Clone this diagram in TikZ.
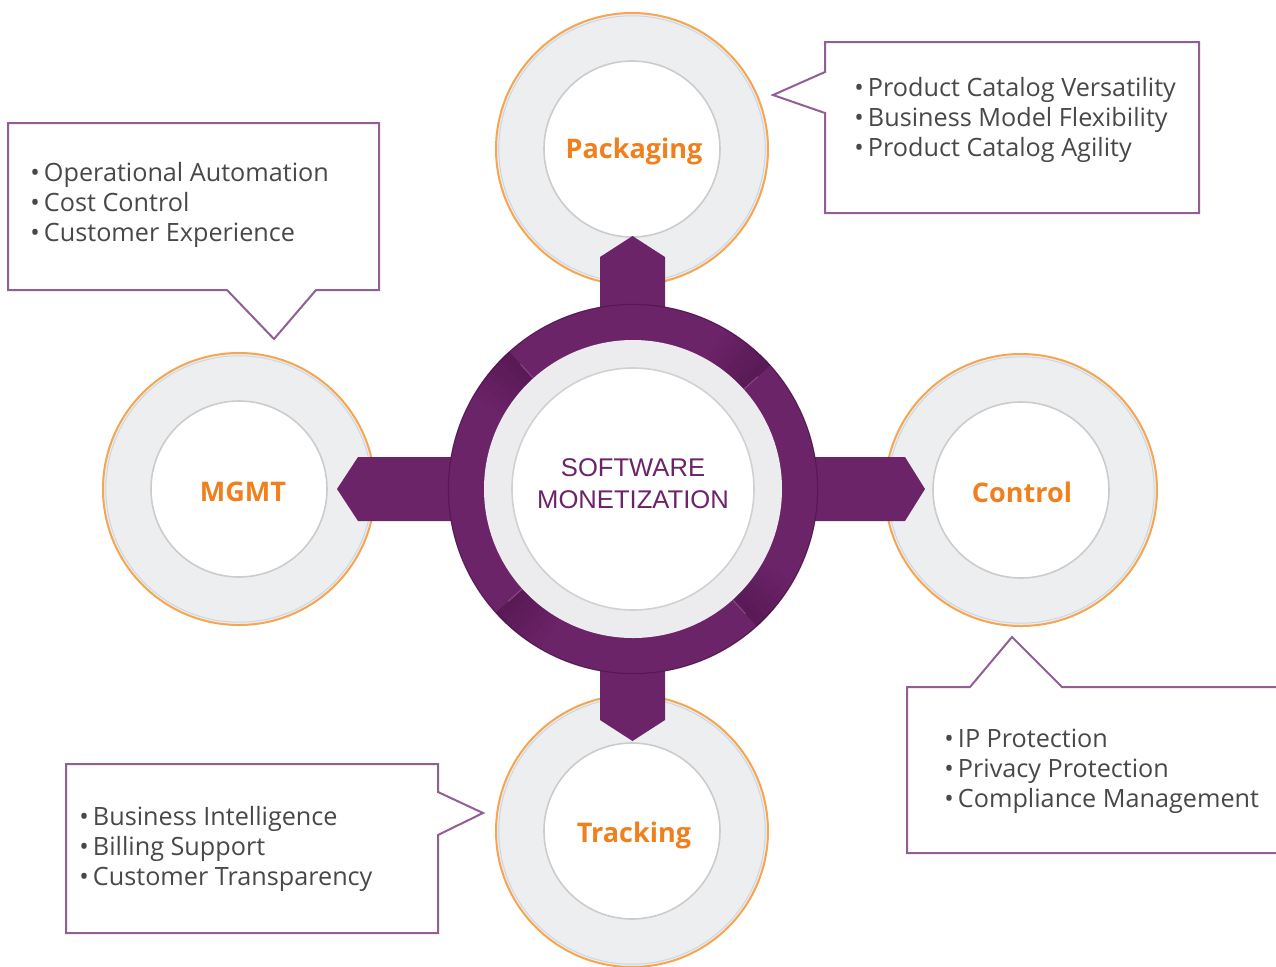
\documentclass[tikz,border=0pt]{standalone}
\usepackage{fontspec}
\setmainfont{Open Sans}
\newfontfamily\cfont{Liberation Sans}
\usetikzlibrary{calc}
\definecolor{purp}{RGB}{108,36,104}
\definecolor{purpdark}{RGB}{60,12,58}
\definecolor{orng}{RGB}{240,128,30}
\definecolor{orline}{RGB}{246,165,80}
\definecolor{ringgrey}{RGB}{237,238,240}
\definecolor{bluegrey}{RGB}{205,214,224}
\definecolor{coregrey}{RGB}{236,236,238}
\definecolor{boxline}{RGB}{145,95,150}
\definecolor{txt}{RGB}{72,72,72}
\begin{document}
\begin{tikzpicture}[x=0.5pt,y=-0.5pt,
  satouter/.style={circle,draw=orline,line width=1pt,fill=ringgrey,minimum size=136pt,inner sep=0pt},
  satinner/.style={circle,draw=black!20,line width=0.8pt,fill=white,minimum size=88pt,inner sep=0pt},
  satlabel/.style={anchor=base,font=\bfseries\fontsize{13.5}{16}\selectfont,text=orng,inner sep=0pt},
  callout/.style={draw=boxline,line width=1pt,fill=white,line join=miter},
  bullets/.style={align=left,anchor=west,text=txt,inner sep=0pt,font=\fontsize{12.6}{15}\selectfont},
  arm/.style={fill=purp}
]
\useasboundingbox (0,0) rectangle (1276,966);
\fill[white] (0,0) rectangle (1276,966);
\clip (0,0) rectangle (1276,966);

% satellite circles
\node[satouter] (pack) at (632,149) {};
\node[satouter] (mgmt) at (239,489) {};
\node[satouter] (ctrl) at (1021,490) {};
\node[satouter] (track) at (632,831) {};
\foreach \n in {pack,mgmt,ctrl,track}{
  \draw[bluegrey,line width=0.5pt] (\n.center) circle[radius=66.6pt];
}
\node[satinner] (packin) at (pack.center) {};
\node[satinner] (mgmtin) at (mgmt.center) {};
\node[satinner] (ctrlin) at (ctrl.center) {};
\node[satinner] (trackin) at (track.center) {};

% arms
\fill[arm] (600,257) -- (632.5,236) -- (665,257) -- (665,420) -- (600,420) -- cycle;
\fill[arm] (600,720) -- (632.5,741) -- (665,720) -- (665,560) -- (600,560) -- cycle;
\fill[arm] (358,457) -- (337,489) -- (358,521) -- (500,521) -- (500,457) -- cycle;
\fill[arm] (905,457) -- (925,489) -- (905,521) -- (760,521) -- (760,457) -- cycle;

% central ring
\node[circle,fill=purp,minimum size=185pt,inner sep=0pt] (core) at (633,489) {};
\draw[purpdark,opacity=0.45,line width=0.6pt] (core.center) circle[radius=92.3pt];
\foreach \a in {132,42,-48,222}{
  \foreach \i in {0,...,8}{
    \pgfmathsetmacro\op{0.38*(1-\i/9)}
    \pgfmathsetmacro\sa{\a+2*\i}
    \pgfmathsetmacro\ea{\a+2*\i+2}
    \fill[purpdark,opacity=\op,shift={(core.center)}]
      (\sa:92.5pt) arc[start angle=\sa, end angle=\ea, radius=92.5pt]
      -- (\ea:74.5pt) arc[start angle=\ea, end angle=\sa, radius=74.5pt] -- cycle;
  }
  \draw[purp!85!white,line width=0.6pt,shift={(core.center)}] (\a:74.5pt) -- (\a:84pt);
}
\node[circle,fill=coregrey,minimum size=149pt,inner sep=0pt] (coregr) at (core.center) {};
\node[circle,fill=white,draw=black!18,line width=0.8pt,minimum size=121pt,inner sep=0pt] (corein) at (core.center) {};
\node[align=center,text=purp,font=\cfont\fontsize{12.8}{16}\selectfont] (coretext) at (633,484) {SOFTWARE\\MONETIZATION};

% satellite labels
\node[satlabel] (packlbl) at (634,158) {Packaging};
\node[satlabel] (mgmtlbl) at (243,501) {MGMT};
\node[satlabel] (ctrllbl) at (1022,502) {Control};
\node[satlabel] (tracklbl) at (634,842) {Tracking};

% callouts
\draw[callout] (825,42) -- (1199,42) -- (1199,213) -- (825,213) -- (825,113) -- (773,95) -- (825,72) -- cycle;
\draw[callout] (8,123) -- (379,123) -- (379,290) -- (316,290) -- (274,339) -- (227,290) -- (8,290) -- cycle;
\draw[callout] (907,687) -- (970,687) -- (1012,637) -- (1062,687) -- (1290,687) -- (1290,853) -- (907,853) -- cycle;
\draw[callout] (66,764) -- (438,764) -- (438,792) -- (483,813) -- (438,835) -- (438,933) -- (66,933) -- cycle;

\newcommand{\bul}{\makebox[6.8pt][l]{\textbullet}}
\node[bullets] (packtxt) at (854,120) {\bul Product Catalog Versatility\\\bul Business Model Flexibility\\\bul Product Catalog Agility};
\node[bullets] (mgmttxt) at (30,205) {\bul Operational Automation\\\bul Cost Control\\\bul Customer Experience};
\node[bullets] (ctrltxt) at (944,771) {\bul IP Protection\\\bul Privacy Protection\\\bul Compliance Management};
\node[bullets] (tracktxt) at (79,849) {\bul Business Intelligence\\\bul Billing Support\\\bul Customer Transparency};
\end{tikzpicture}
\end{document}
